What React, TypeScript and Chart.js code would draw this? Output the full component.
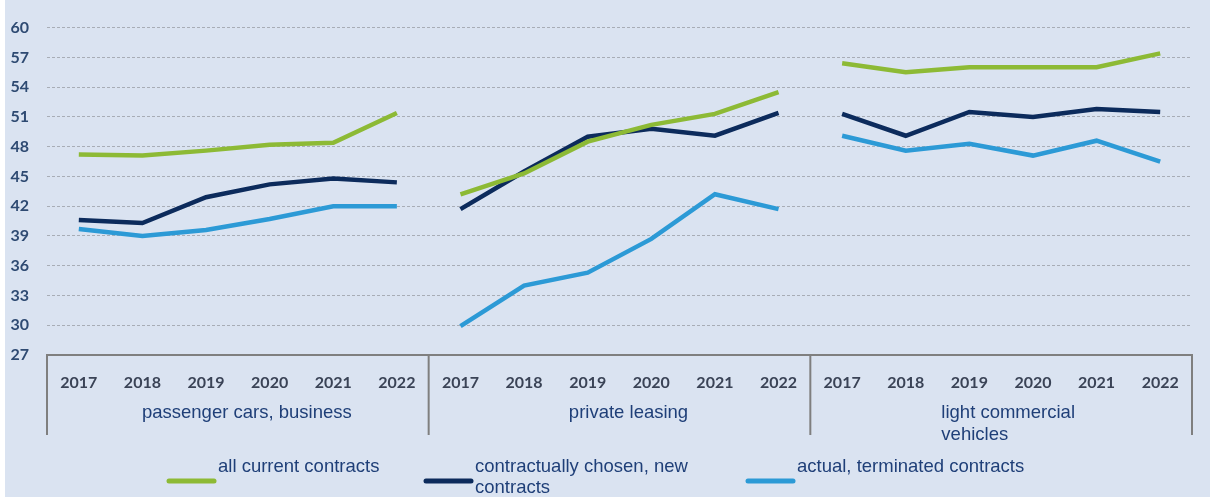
import React, { useEffect, useRef } from "react";
import { Chart, registerables } from "chart.js";

Chart.register(...registerables);

// ---- data ----
const years = ["2017", "2018", "2019", "2020", "2021", "2022"];
const groupLabels = [["passenger cars, business"], ["private leasing"], ["light commercial", "vehicles"]];
const categories = [...years, ...years, ...years];

const allCurrent = [47.2, 47.1, 47.6, 48.2, 48.4, 51.4, 43.2, 45.3, 48.5, 50.2, 51.3, 53.5, 56.4, 55.5, 56.0, 56.0, 56.0, 57.4];
const chosenNew = [40.6, 40.3, 42.9, 44.2, 44.8, 44.4, 41.7, 45.5, 49.0, 49.8, 49.1, 51.4, 51.3, 49.1, 51.5, 51.0, 51.8, 51.5];
const terminated = [39.7, 39.0, 39.6, 40.7, 42.0, 42.0, 29.9, 34.0, 35.3, 38.7, 43.2, 41.7, 49.1, 47.6, 48.3, 47.1, 48.6, 46.5];

const seriesLabels = ["all current contracts", "contractually chosen, new\ncontracts", "actual, terminated contracts"];
const seriesColors = ["#8dba35", "#0c2b5c", "#2c9ad6"];

const yMin = 27;
const yMax = 60;
const yStep = 3;

const BG = "#dae3f1";
const TEXT = "#1f3f78";
const LEGEND_X = [168, 425, 747];
const GROUP_OFFSETS = [9, 9, 7];

const backgroundPlugin = {
  id: "bg",
  beforeDraw(chart: any) {
    const { ctx, width, height } = chart;
    ctx.save();
    ctx.fillStyle = "#ffffff";
    ctx.fillRect(0, 0, width, height);
    ctx.fillStyle = BG;
    ctx.fillRect(5, 0, width - 5, height - 6);
    ctx.restore();
  },
};

const groupPlugin = {
  id: "groups",
  afterDraw(chart: any) {
    const { ctx } = chart;
    const xs = chart.scales.x;
    const n = years.length;
    const bounds: number[] = [xs.left];
    for (let g = 1; g < groupLabels.length; g++) {
      bounds.push((xs.getPixelForValue(g * n - 1) + xs.getPixelForValue(g * n)) / 2);
    }
    bounds.push(xs.right);
    ctx.save();
    ctx.strokeStyle = "#7f7f7f";
    ctx.lineWidth = 2;
    bounds.forEach((b) => {
      ctx.beginPath();
      ctx.moveTo(b, xs.top);
      ctx.lineTo(b, xs.top + 80);
      ctx.stroke();
    });
    ctx.fillStyle = TEXT;
    ctx.font = "18.5px 'Liberation Sans', Arial, sans-serif";
    ctx.textBaseline = "middle";
    ctx.textAlign = "left";
    groupLabels.forEach((lines, g) => {
      const center = (bounds[g] + bounds[g + 1]) / 2;
      const w = Math.max(...lines.map((l) => ctx.measureText(l).width));
      const x0 = center - w / 2 + GROUP_OFFSETS[g];
      lines.forEach((l, i) => {
        ctx.fillText(l, x0, xs.top + 58 + i * 22);
      });
    });

    // legend
    const yLine = 481;
    chart.data.datasets.forEach((ds: any, k: number) => {
      const x = LEGEND_X[k];
      ctx.strokeStyle = ds.borderColor;
      ctx.lineWidth = 5;
      ctx.lineCap = "round";
      ctx.beginPath();
      ctx.moveTo(x + 1, yLine);
      ctx.lineTo(x + 46, yLine);
      ctx.stroke();
      const lines = String(ds.label).split("\n");
      ctx.fillStyle = TEXT;
      lines.forEach((l, i) => ctx.fillText(l, x + 50, 467 + i * 21));
    });
    ctx.restore();
  },
};

const gapSegment = (color: string) => ({
  borderColor: (c: any) => (c.p0DataIndex % years.length === years.length - 1 ? "rgba(0,0,0,0)" : color),
});

export default function App() {
  const ref = useRef<HTMLCanvasElement>(null);
  useEffect(() => {
    const series = [allCurrent, chosenNew, terminated];
    const chart = new Chart(ref.current as HTMLCanvasElement, {
      type: "line",
      data: {
        labels: categories,
        datasets: series.map((d, i) => ({
          label: seriesLabels[i],
          data: d,
          borderColor: seriesColors[i],
          backgroundColor: seriesColors[i],
          borderWidth: 4.5,
          pointRadius: 0,
          tension: 0,
          fill: false,
          segment: gapSegment(seriesColors[i]),
        })),
      },
      plugins: [backgroundPlugin, groupPlugin],
      options: {
        responsive: false,
        animation: false,
        events: [],
        layout: { padding: { left: 0, right: 18, top: 27, bottom: 0 } },
        plugins: { legend: { display: false }, tooltip: { enabled: false } },
        scales: {
          x: {
            type: "category",
            offset: true,
            grid: { display: false, drawTicks: false },
            border: { display: true, color: "#7f7f7f", width: 2 },
            ticks: {
              autoSkip: false,
              maxRotation: 0,
              padding: 18,
              color: "#3a4356",
              font: { family: "Lato, 'Open Sans', sans-serif", size: 16, weight: "bold" },
            },
            afterFit: (s: any) => {
              s.height = 148;
            },
          },
          y: {
            min: yMin,
            max: yMax,
            ticks: {
              stepSize: yStep,
              padding: 18,
              color: "#2e4a72",
              font: { family: "Lato, 'Open Sans', sans-serif", size: 16, weight: "bold" },
            },
            grid: { color: "#a8adb6", lineWidth: 1, drawTicks: false },
            border: { display: false, dash: [3, 2] },
            afterFit: (s: any) => {
              s.width = 47;
            },
          },
        },
      },
    } as any);
    return () => chart.destroy();
  }, []);
  return (
    <div style={{ position: "absolute", left: 0, top: 0, width: 1210, height: 503 }}>
      <canvas ref={ref} width={1210} height={503} style={{ display: "block" }} />
    </div>
  );
}
